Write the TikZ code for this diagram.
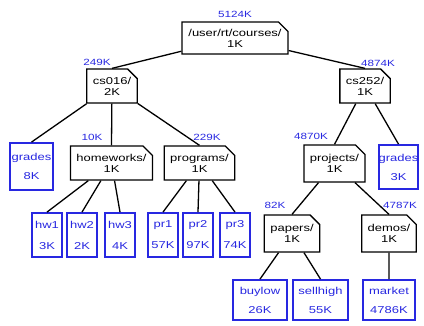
\documentclass[tikz,border=0pt]{standalone}
\usepackage{fontspec}
\setmainfont{Liberation Sans}[FakeStretch=1.3]
\usepackage{xcolor}
\usetikzlibrary{shapes.misc}
\definecolor{fileblue}{RGB}{40,40,225}

\begin{document}
\begin{tikzpicture}[
    x=1pt, y=-1pt,
    font=\fontsize{10}{11}\selectfont,
    dir/.style={draw, chamfered rectangle, chamfered rectangle corners=north east, chamfered rectangle xsep=6pt, line width=1.3pt, fill=white, align=center, inner sep=0pt},
    file/.style={draw=fileblue, text=fileblue, line width=1.8pt, fill=white, align=center, inner sep=0pt},
    size/.style={text=fileblue, inner sep=0pt, font=\fontsize{9}{10}\selectfont},
    edge/.style={line width=1.3pt}
]
\useasboundingbox (0,0) rectangle (424,325);

\node[dir, minimum width=106pt, minimum height=32pt] (courses) at (235,38) {/user/rt/courses/\\1K};
\node[dir, minimum width=50pt, minimum height=34pt] (cs016) at (112,86) {cs016/\\2K};
\node[dir, minimum width=46pt, minimum height=34pt] (cs252) at (365,86) {cs252/\\1K};

\node[file, minimum width=43pt, minimum height=47pt] (grades1) at (31.5,166.5) {grades\\[8pt]8K};
\node[dir, minimum width=81pt, minimum height=34pt] (homeworks) at (111.5,163) {homeworks/\\1K};
\node[dir, minimum width=69pt, minimum height=34pt] (programs) at (199.5,163) {programs/\\1K};
\node[dir, minimum width=61pt, minimum height=37pt] (projects) at (334.5,163.5) {projects/\\1K};
\node[file, minimum width=37pt, minimum height=44pt] (grades2) at (398.5,167) {grades\\[8pt]3K};

\node[file, minimum width=30pt, minimum height=44pt] (hw1) at (47,235) {hw1\\[10pt]3K};
\node[file, minimum width=30pt, minimum height=44pt] (hw2) at (82,235) {hw2\\[10pt]2K};
\node[file, minimum width=30pt, minimum height=44pt] (hw3) at (120,235) {hw3\\[10pt]4K};
\node[file, minimum width=30pt, minimum height=44pt] (pr1) at (163,235) {pr1\\[10pt]57K};
\node[file, minimum width=30pt, minimum height=44pt] (pr2) at (198,235) {pr2\\[10pt]97K};
\node[file, minimum width=30pt, minimum height=44pt] (pr3) at (235,235) {pr3\\[10pt]74K};
\node[dir, minimum width=54pt, minimum height=37pt] (papers) at (292,233.5) {papers/\\1K};
\node[dir, minimum width=52pt, minimum height=37pt] (demos) at (389,233.5) {demos/\\1K};

\node[file, minimum width=54pt, minimum height=40pt] (buylow) at (260,300) {buylow\\[8pt]26K};
\node[file, minimum width=55pt, minimum height=40pt] (sellhigh) at (320.5,300) {sellhigh\\[8pt]55K};
\node[file, minimum width=52pt, minimum height=40pt] (market) at (389,300) {market\\[8pt]4786K};

% sizes
\node[size] (s-courses) at (235,14) {5124K};
\node[size] (s-cs016) at (97,62) {249K};
\node[size] (s-cs252) at (378,63) {4874K};
\node[size] (s-homeworks) at (92,137) {10K};
\node[size] (s-programs) at (207,137) {229K};
\node[size] (s-projects) at (311,136) {4870K};
\node[size] (s-papers) at (275,205) {82K};
\node[size] (s-demos) at (400,205) {4787K};

\draw[edge] (courses) -- (cs016.north);
\draw[edge] (courses) -- (cs252.north);
\draw[edge] (cs016) -- (grades1.north);
\draw[edge] (cs016) -- (homeworks.north);
\draw[edge] (cs016) -- (programs.north);
\draw[edge] (cs252) -- (projects.north);
\draw[edge] (cs252) -- (grades2.north);
\draw[edge] (homeworks) -- (hw1.north);
\draw[edge] (homeworks) -- (hw2.north);
\draw[edge] (homeworks) -- (hw3.north);
\draw[edge] (programs) -- (pr1.north);
\draw[edge] (programs) -- (pr2.north);
\draw[edge] (programs) -- (pr3.north);
\draw[edge] (projects) -- (papers.north);
\draw[edge] (projects) -- (demos.north);
\draw[edge] (papers) -- (buylow.north);
\draw[edge] (papers) -- (sellhigh.north);
\draw[edge] (demos) -- (market.north);

\end{tikzpicture}
\end{document}
